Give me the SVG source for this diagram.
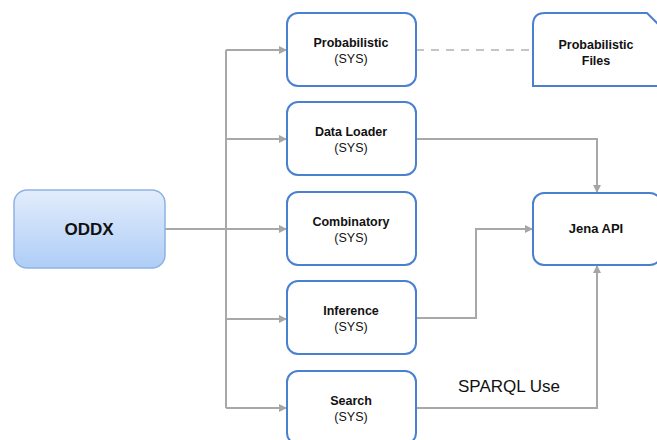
<svg xmlns="http://www.w3.org/2000/svg" width="657" height="440" viewBox="0 0 657 440">
<defs>
<linearGradient id="g" x1="0" y1="0" x2="0" y2="1">
<stop offset="0" stop-color="#e2edfc"/>
<stop offset="1" stop-color="#afcdf6"/>
</linearGradient>
<marker id="a" markerWidth="8" markerHeight="8" viewBox="0 0 8 8" refX="8" refY="4" orient="auto" markerUnits="userSpaceOnUse">
<path d="M0,0 L8,4 L0,8 Z" fill="#a6a6a6"/>
</marker>
</defs>
<style>
.box{fill:#fff;stroke:#4a80d0;stroke-width:2}
.c{fill:none;stroke:#a8a8a8;stroke-width:2}
.t{font-family:"Liberation Sans",Arial,sans-serif;font-size:12.5px;fill:#111;text-anchor:middle}
.b{font-weight:bold}
</style>
<rect width="657" height="440" fill="#fff"/>
<g id="connectors">
<path class="c" d="M165,229 H226"/>
<path class="c" d="M226,50 V408"/>
<path class="c" d="M226,50 H287" marker-end="url(#a)"/>
<path class="c" d="M226,139 H287" marker-end="url(#a)"/>
<path class="c" d="M226,229 H287" marker-end="url(#a)"/>
<path class="c" d="M226,319 H287" marker-end="url(#a)"/>
<path class="c" d="M226,408 H287" marker-end="url(#a)"/>
<path class="c" d="M416,50 H533" style="stroke:#c4c4c4" stroke-dasharray="8,7"/>
<path class="c" d="M416,139 H597 V193" marker-end="url(#a)"/>
<path class="c" d="M416,318 H476 V229 H533" marker-end="url(#a)"/>
<path class="c" d="M416,408 H597 V265" marker-end="url(#a)"/>
<text x="509" y="392" font-family="'Liberation Sans',Arial,sans-serif" font-size="17" text-anchor="middle" fill="#111">SPARQL Use</text>
</g>
<g id="oddx">
<rect x="14" y="190" width="151" height="78" rx="13" fill="url(#g)" stroke="#8fb2e4" stroke-width="1.5"/>
<text class="t b" x="89" y="235" style="font-size:17px">ODDX</text>
</g>
<g id="probabilistic">
<rect class="box" x="287" y="13" width="129" height="73" rx="11"/>
<text class="t b" x="351" y="47">Probabilistic</text>
<text class="t" x="351" y="63">(SYS)</text>
</g>
<g id="dataloader">
<rect class="box" x="287" y="102" width="129" height="73" rx="11"/>
<text class="t b" x="351" y="136">Data Loader</text>
<text class="t" x="351" y="152">(SYS)</text>
</g>
<g id="combinatory">
<rect class="box" x="287" y="192" width="129" height="73" rx="11"/>
<text class="t b" x="351" y="226">Combinatory</text>
<text class="t" x="351" y="242">(SYS)</text>
</g>
<g id="inference">
<rect class="box" x="287" y="281" width="129" height="73" rx="11"/>
<text class="t b" x="351" y="315">Inference</text>
<text class="t" x="351" y="331">(SYS)</text>
</g>
<g id="search">
<rect class="box" x="287" y="371" width="129" height="73" rx="11"/>
<text class="t b" x="351" y="405">Search</text>
<text class="t" x="351" y="421">(SYS)</text>
</g>
<g id="probfiles">
<path class="box" d="M533,86 V25 Q533,13 545,13 H647 L659,25 V86 Z"/>
<text class="t b" x="596" y="49">Probabilistic</text>
<text class="t b" x="596" y="65">Files</text>
</g>
<g id="jena">
<rect class="box" x="533" y="193" width="128" height="72" rx="11"/>
<text class="t b" x="596" y="233" style="font-size:13px">Jena API</text>
</g>
</svg>
